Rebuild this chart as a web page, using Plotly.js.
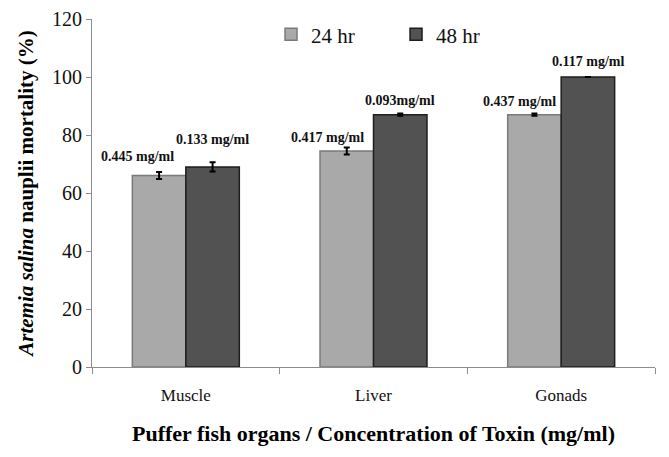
<!DOCTYPE html>
<html><head><meta charset="utf-8">
<script src="https://cdn.plot.ly/plotly-3.0.1.min.js"></script>
<style>html,body{margin:0;padding:0;background:#fff}#chart{width:669px;height:457px}</style>
</head><body><div id="chart"></div>
<script>
const categories = ["Muscle", "Liver", "Gonads"];
const series24 = [66, 74.5, 87];
const err24 = [1.2, 1.2, 0.4];
const series48 = [69, 87, 100];
const err48 = [1.6, 0.4, 0];
const conc24 = ["0.445 mg/ml", "0.417 mg/ml", "0.437 mg/ml"];
const conc48 = ["0.133 mg/ml", "0.093mg/ml", "0.117 mg/ml"];

const FONT = '"Liberation Serif", serif';

const traces = [
  {type:'bar', name:'24 hr', x:categories, y:series24,
   marker:{color:'#a9a9a9', line:{color:'#7a7a7a', width:1.5}},
   error_y:{type:'data', array:err24, visible:true, color:'#000', thickness:2, width:3}},
  {type:'bar', name:'48 hr', x:categories, y:series48,
   marker:{color:'#525252', line:{color:'#1e1e1e', width:1.5}},
   error_y:{type:'data', array:err48, visible:true, color:'#000', thickness:2, width:3}}
];

const shifts24 = [[-22, 10], [-20, 4], [-16, 4]];
const shifts48 = [[1, 18], [0, 5], [1, 6]];
const annotations = [];
categories.forEach((c,i)=>{
  annotations.push({x:c, y:series24[i], xref:'x', yref:'y', text:'<b>'+conc24[i]+'</b>',
    showarrow:false, xshift:-26+shifts24[i][0], yshift:shifts24[i][1], yanchor:'bottom', font:{family:FONT, size:14, color:'#111'}});
  annotations.push({x:c, y:series48[i], xref:'x', yref:'y', text:'<b>'+conc48[i]+'</b>',
    showarrow:false, xshift:26+shifts48[i][0], yshift:shifts48[i][1], yanchor:'bottom', font:{family:FONT, size:14, color:'#111'}});
});

const layout = {
  width:669, height:457,
  margin:{l:92, r:14, t:19, b:90},
  paper_bgcolor:'#fff', plot_bgcolor:'#fff',
  barmode:'group', bargap:0.43, bargroupgap:0,
  font:{family:FONT, color:'#111'},
  showlegend:true,
  legend:{orientation:'h', x:0.318, y:0.955, xanchor:'left', yanchor:'middle',
    font:{family:FONT, size:21, color:'#111'}, bgcolor:'rgba(0,0,0,0)', itemwidth:30,
    entrywidth:80, entrywidthmode:'pixels'},
  xaxis:{showline:true, linecolor:'#8c8c8c', linewidth:1, ticks:'outside', tickson:'boundaries',
    ticklen:6, tickcolor:'#8c8c8c', tickfont:{family:FONT, size:17, color:'#111'}, ticklabelstandoff:13,
    title:{text:'<b>Puffer fish organs / Concentration of Toxin (mg/ml)</b>', font:{family:FONT, size:22, color:'#000'}, standoff:21},
    showgrid:false, zeroline:false},
  yaxis:{range:[0,120], dtick:20, showline:true, linecolor:'#8c8c8c', linewidth:1, ticks:'outside',
    ticklen:5, tickcolor:'#8c8c8c', tickfont:{family:FONT, size:20, color:'#111'},
    title:{text:'<b><i>Artemia salina</i> nauplii mortality (%)</b>', font:{family:FONT, size:21, color:'#000'}, standoff:12},
    showgrid:false, zeroline:false},
  annotations:annotations
};
Plotly.newPlot('chart', traces, layout, {displayModeBar:false, staticPlot:true});
</script></body></html>
